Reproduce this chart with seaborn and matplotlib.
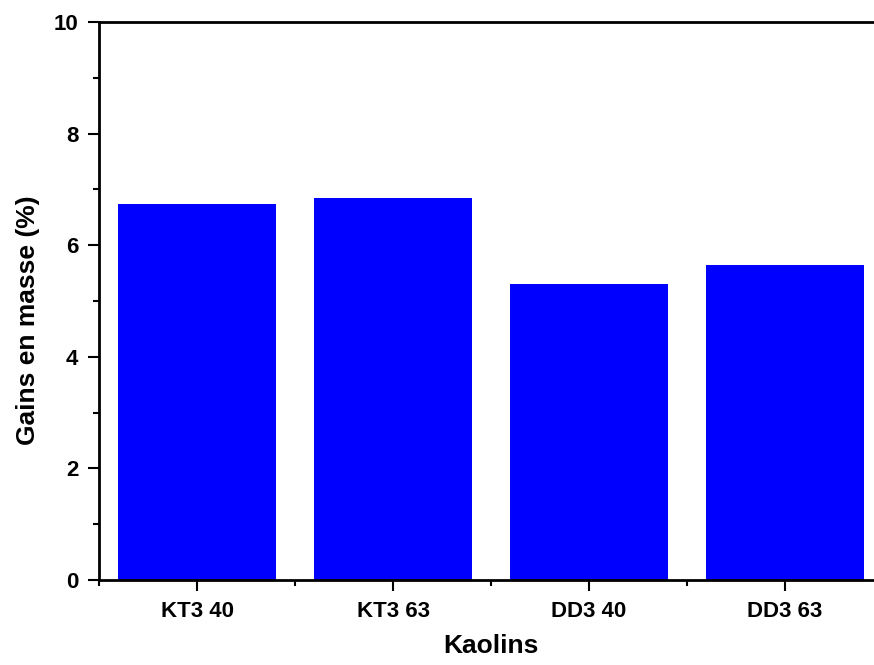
import matplotlib
matplotlib.use('Agg')
import matplotlib.pyplot as plt
from matplotlib.ticker import MultipleLocator, FixedLocator
import seaborn as sns
import pandas as pd

# Data
kaolins = ['KT3 40', 'KT3 63', 'DD3 40', 'DD3 63']
gains = [6.73, 6.85, 5.31, 5.64]

df = pd.DataFrame({'kaolin': kaolins, 'gain': gains})

sns.set_style('ticks')
plt.rcParams['font.family'] = ['Liberation Sans', 'DejaVu Sans']
plt.rcParams['font.weight'] = 'bold'
plt.rcParams['text.color'] = 'black'
plt.rcParams['axes.labelcolor'] = 'black'
plt.rcParams['xtick.color'] = 'black'
plt.rcParams['ytick.color'] = 'black'

fig = plt.figure(figsize=(8.74, 6.65), dpi=100)
ax = fig.add_axes([0.1133, 0.1278, 0.8970, 0.8391])

sns.barplot(
    df,
    x='kaolin',
    y='gain',
    color='#0000ff',
    saturation=1,
    width=0.81,
    linewidth=0,
    ax=ax
)

# Axis limits and ticks
ax.set_xlim(-0.5, 3.5)
ax.set_ylim(0, 10)
ax.yaxis.set_major_locator(MultipleLocator(2))
ax.yaxis.set_minor_locator(MultipleLocator(1))
ax.xaxis.set_minor_locator(FixedLocator([-0.5, 0.5, 1.5, 2.5, 3.5]))

for side in ['left', 'bottom', 'top']:
    ax.spines[side].set_visible(True)
    ax.spines[side].set_linewidth(2)
    ax.spines[side].set_color('black')
ax.spines['right'].set_visible(False)

ax.tick_params(which='major', direction='out', length=8, width=1.5,
               labelsize=16, pad=7, colors='black')
ax.tick_params(which='minor', direction='out', length=4.5, width=1.5,
               colors='black')
ax.tick_params(top=False, right=False, which='both')

for lab in ax.get_xticklabels() + ax.get_yticklabels():
    lab.set_fontweight('bold')
    lab.set_fontsize(16)

# Format
ax.set_xlabel('Kaolins', fontsize=19, fontweight='bold', labelpad=9)
ax.set_ylabel('Gains en masse (%)', fontsize=19, fontweight='bold')
ax.yaxis.set_label_coords(-0.075, 0.465)

plt.savefig('out.png', dpi=100)
